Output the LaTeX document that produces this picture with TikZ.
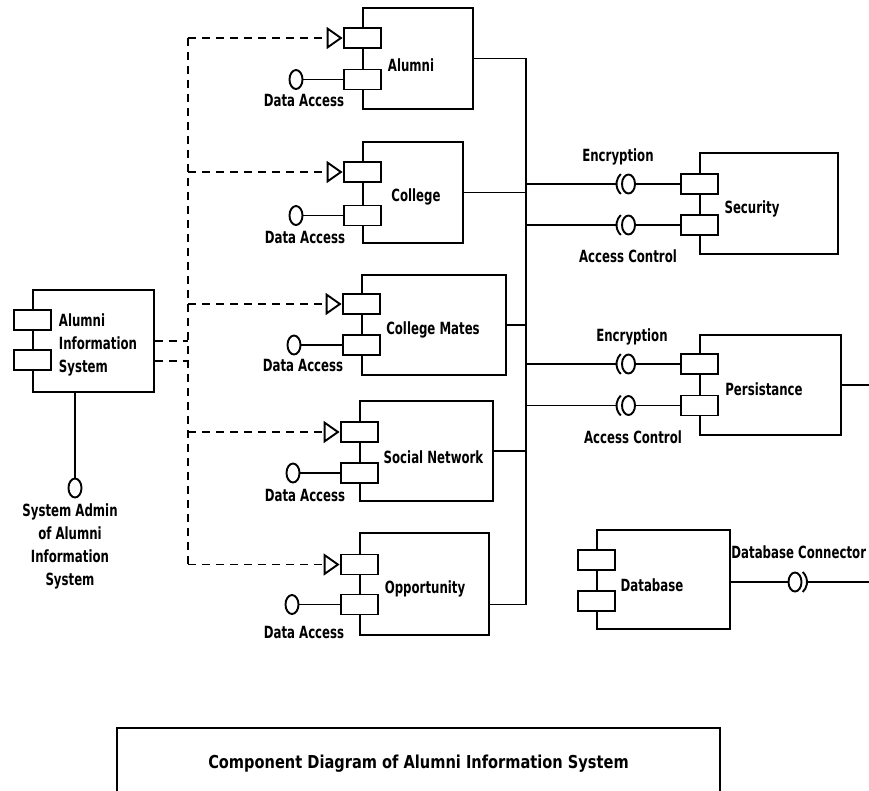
\documentclass[tikz,border=0pt]{standalone}
\usepackage{fontspec}
\setmainfont{DejaVu Sans}
\newfontfamily\lblfont{DejaVu Sans}[FakeStretch=0.70]
\newfontfamily\ttlfont{DejaVu Sans}[FakeStretch=0.82]
\usetikzlibrary{arrows.meta,shapes.geometric}

\tikzset{every picture/.style={line width=1.9pt},
  comp/.style={draw, rectangle, inner sep=0pt},
  port/.style={draw, fill=white, rectangle, minimum width=37pt, minimum height=20pt, inner sep=0pt},
  ball/.style={draw, fill=white, ellipse, minimum width=13pt, minimum height=19pt, inner sep=0pt},
  dep/.style={dash pattern=on 8pt off 6pt},
  realize/.style={dep, -{Triangle[open,length=16pt,width=22pt,line width=1.9pt]}},
  lbl/.style={font=\lblfont\bfseries\fontsize{16.8}{23}\selectfont, inner sep=0pt},
  ttl/.style={font=\ttlfont\bfseries\fontsize{17.8}{22}\selectfont}
}

\begin{document}
\begin{tikzpicture}[x=1pt,y=1pt,yscale=-1,xscale=1]
\useasboundingbox (0,0) rectangle (869,790);

%Shape: Components
\node[comp, minimum width=121pt, minimum height=102pt] (sys) at (93.5,341) {};
\node[comp, minimum width=110pt, minimum height=101pt] (alumni) at (418,58.5) {};
\node[comp, minimum width=100pt, minimum height=101pt] (college) at (413,192.5) {};
\node[comp, minimum width=144pt, minimum height=100pt] (mates) at (434,325) {};
\node[comp, minimum width=133pt, minimum height=100pt] (social) at (426.5,451) {};
\node[comp, minimum width=129pt, minimum height=102pt] (opp) at (424.5,584) {};
\node[comp, minimum width=138pt, minimum height=101pt] (secur) at (769,203.5) {};
\node[comp, minimum width=141pt, minimum height=100pt] (persist) at (770.5,385) {};
\node[comp, minimum width=133pt, minimum height=99pt] (dbase) at (663.5,579.5) {};

%Shape: Ports
\node[port] (sysP1) at (sys.west |- 0,320) {};
\node[port] (sysP2) at (sys.west |- 0,360) {};
\node[port] (alumniP1) at (alumni.west |- 0,38) {};
\node[port] (alumniP2) at (alumni.west |- 0,79.5) {};
\node[port] (collegeP1) at (college.west |- 0,172) {};
\node[port] (collegeP2) at (college.west |- 0,215.5) {};
\node[port] (matesP1) at (mates.west |- 0,304) {};
\node[port] (matesP2) at (mates.west |- 0,345) {};
\node[port] (socialP1) at (social.west |- 0,432) {};
\node[port] (socialP2) at (social.west |- 0,473) {};
\node[port] (oppP1) at (opp.west |- 0,564.5) {};
\node[port] (oppP2) at (opp.west |- 0,604.5) {};
\node[port] (securP1) at (secur.west |- 0,184) {};
\node[port] (securP2) at (secur.west |- 0,225) {};
\node[port] (persistP1) at (persist.west |- 0,364) {};
\node[port] (persistP2) at (persist.west |- 0,405.5) {};
\node[port] (dbaseP1) at (dbase.west |- 0,560) {};
\node[port] (dbaseP2) at (dbase.west |- 0,601) {};

%Shape: Interface balls
\node[ball] (admin) at (75,488) {};
\node[ball] (alumniDA) at (296,79.5) {};
\node[ball] (collegeDA) at (296,215.5) {};
\node[ball] (matesDA) at (294,345) {};
\node[ball] (socialDA) at (293,473) {};
\node[ball] (oppDA) at (292,604.5) {};
\node[ball] (securEnc) at (628.5,184) {};
\node[ball] (securAcc) at (628.5,225) {};
\node[ball] (persistEnc) at (628.5,364) {};
\node[ball] (persistAcc) at (628.5,405.5) {};
\node[ball] (dbaseCon) at (795,582) {};

\coordinate (depT) at (188,38);
\coordinate (depB) at (188,564.5);
\coordinate (busB) at (526,604.5);
\coordinate (persistOut) at (869,385);
\coordinate (dbaseOut) at (869,582);

%Straight Lines: provided interfaces
\draw (admin) -- (admin |- sys.south);
\draw (alumniDA) -- (alumniP2);
\draw (collegeDA) -- (collegeP2);
\draw (matesDA) -- (matesP2);
\draw (socialDA) -- (socialP2);
\draw (oppDA) -- (oppP2);
\draw (securEnc) -- (securP1);
\draw (securAcc) -- (securP2);
\draw (persistEnc) -- (persistP1);
\draw (persistAcc) -- (persistP2);
\draw (dbaseCon) -- (dbaseCon -| dbase.east);
\draw (persist.east |- persistOut) -- (persistOut);

%Dashed Lines: dependencies
\draw[dep] (depT) -- (depB);
\draw[dep] (sys.east |- 0,341) -- (depT |- 0,341);
\draw[dep] (sys.east |- 0,361) -- (depT |- 0,361);
\draw[realize] (depT) -- (alumniP1.west);
\draw[realize] (depT |- collegeP1) -- (collegeP1.west);
\draw[realize] (depT |- matesP1) -- (matesP1.west);
\draw[realize] (depT |- socialP1) -- (socialP1.west);
\draw[realize] (depB) -- (oppP1.west);

%Straight Lines: bus
\draw (alumni.east) -| (busB) -- (busB -| opp.east);
\draw (college.east) -- (college.east -| busB);
\draw (mates.east) -- (mates.east -| busB);
\draw (social.east) -- (social.east -| busB);

%Curve Lines: sockets
\foreach \s in {securEnc,securAcc,persistEnc,persistAcc}{
  \draw (\s.center) ++(130:12 and 13) arc[start angle=130,end angle=230,x radius=12,y radius=13];
  \draw (\s.center -| busB) -- ([xshift=-12pt]\s.center);
}
\draw (dbaseCon.center) ++(-50:12 and 13) arc[start angle=-50,end angle=50,x radius=12,y radius=13];
\draw ([xshift=12pt]dbaseCon.center) -- (dbaseOut);

% Text Node
\node[lbl, anchor=west, align=left] (sysT) at (58,345) {Alumni\\Information\\System};
\node[lbl, align=center] (adminT) at (70,546) {System Admin\\of Alumni\\Information\\System};
\node[lbl] (alumniT) at (411,65) {Alumni};
\node[lbl] (collegeT) at (416,197) {College};
\node[lbl] (matesT) at (433,330) {College Mates};
\node[lbl] (socialT) at (433.5,457) {Social Network};
\node[lbl] (oppT) at (425,589) {Opportunity};
\node[lbl] (securT) at (752,209) {Security};
\node[lbl] (persistT) at (764,389) {Persistance};
\node[lbl] (dbaseT) at (652,585) {Database};
\node[lbl] (alumniDAT) at (304,100) {Data Access};
\node[lbl] (collegeDAT) at (305,237) {Data Access};
\node[lbl] (matesDAT) at (303,365) {Data Access};
\node[lbl] (socialDAT) at (305,495) {Data Access};
\node[lbl] (oppDAT) at (304,632) {Data Access};
\node[lbl] (securEncT) at (618,157) {Encryption};
\node[lbl] (securAccT) at (628,256) {Access Control};
\node[lbl] (persistEncT) at (632,337) {Encryption};
\node[lbl] (persistAccT) at (633,437) {Access Control};
\node[lbl, anchor=east] (dbaseConT) at (867,552) {Database Connector};

% Title
\node[draw, ttl, minimum width=603pt, minimum height=72pt] (title) at (418.5,764) {Component Diagram of Alumni Information System};

\end{tikzpicture}
\end{document}
